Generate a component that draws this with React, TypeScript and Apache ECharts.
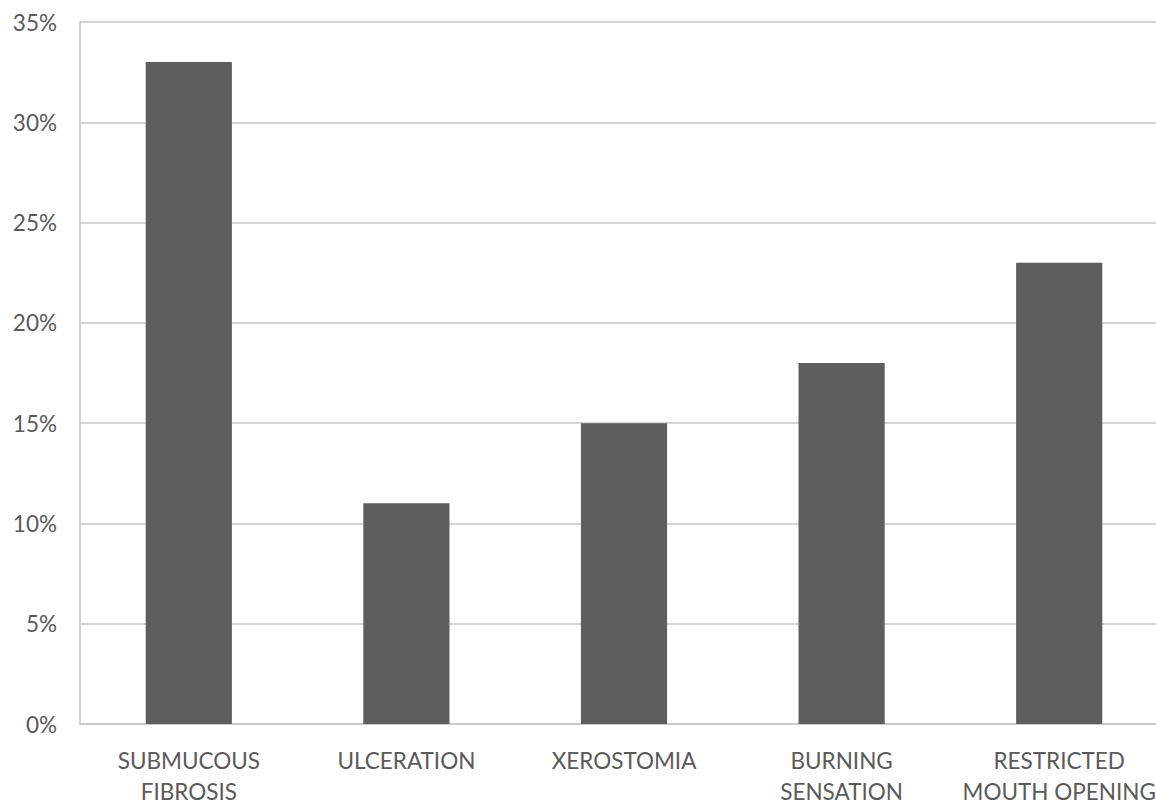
import React, { useEffect, useRef } from "react";
import * as echarts from "echarts";

// Symptoms reported and share of respondents
const categories = [
  "SUBMUCOUS\nFIBROSIS",
  "ULCERATION",
  "XEROSTOMIA",
  "BURNING\nSENSATION",
  "RESTRICTED\nMOUTH OPENING",
];
const percentages = [33, 11, 15, 18, 23];
const yTicks = { min: 0, max: 35, interval: 5 };

const TEXT = "#5a5a5a";
const GRID = "#c6c6c6";
const BAR = "#5e5e5e";
const FONT = "Lato, 'Liberation Sans', sans-serif";

export default function App() {
  const ref = useRef<HTMLDivElement>(null);

  useEffect(() => {
    if (!ref.current) return;
    const chart = echarts.init(ref.current, undefined, { renderer: "svg" });
    chart.setOption({
      animation: false,
      backgroundColor: "#ffffff",
      grid: { left: 80, right: 0, top: 22, bottom: 78, containLabel: false },
      xAxis: {
        type: "category",
        data: categories,
        axisLine: { show: true, lineStyle: { color: GRID, width: 1.5 } },
        axisTick: { show: false },
        axisLabel: {
          color: TEXT,
          fontFamily: FONT,
          fontSize: 22.5,
          lineHeight: 31,
          margin: 21,
          interval: 0,
        },
      },
      yAxis: {
        type: "value",
        min: yTicks.min,
        max: yTicks.max,
        interval: yTicks.interval,
        axisLine: { show: true, lineStyle: { color: GRID, width: 1.5 } },
        axisTick: { show: false },
        splitLine: { show: true, lineStyle: { color: GRID, width: 1.5 } },
        axisLabel: {
          color: TEXT,
          fontFamily: FONT,
          fontSize: 22.5,
          margin: 23,
          formatter: (v: number) => `${v}%`,
        },
      },
      series: [
        {
          type: "bar",
          data: percentages,
          barWidth: "39.6%",
          itemStyle: { color: BAR },
        },
      ],
    });
    return () => chart.dispose();
  }, []);

  // the plot area is slightly wider than the frame, so the last column is cut at the right edge
  return (
    <div
      style={{
        position: "fixed",
        left: 0,
        top: 0,
        width: 1156,
        height: 807,
        overflow: "hidden",
        background: "#fff",
      }}
    >
      <div ref={ref} style={{ width: 1168, height: 807 }} />
    </div>
  );
}
